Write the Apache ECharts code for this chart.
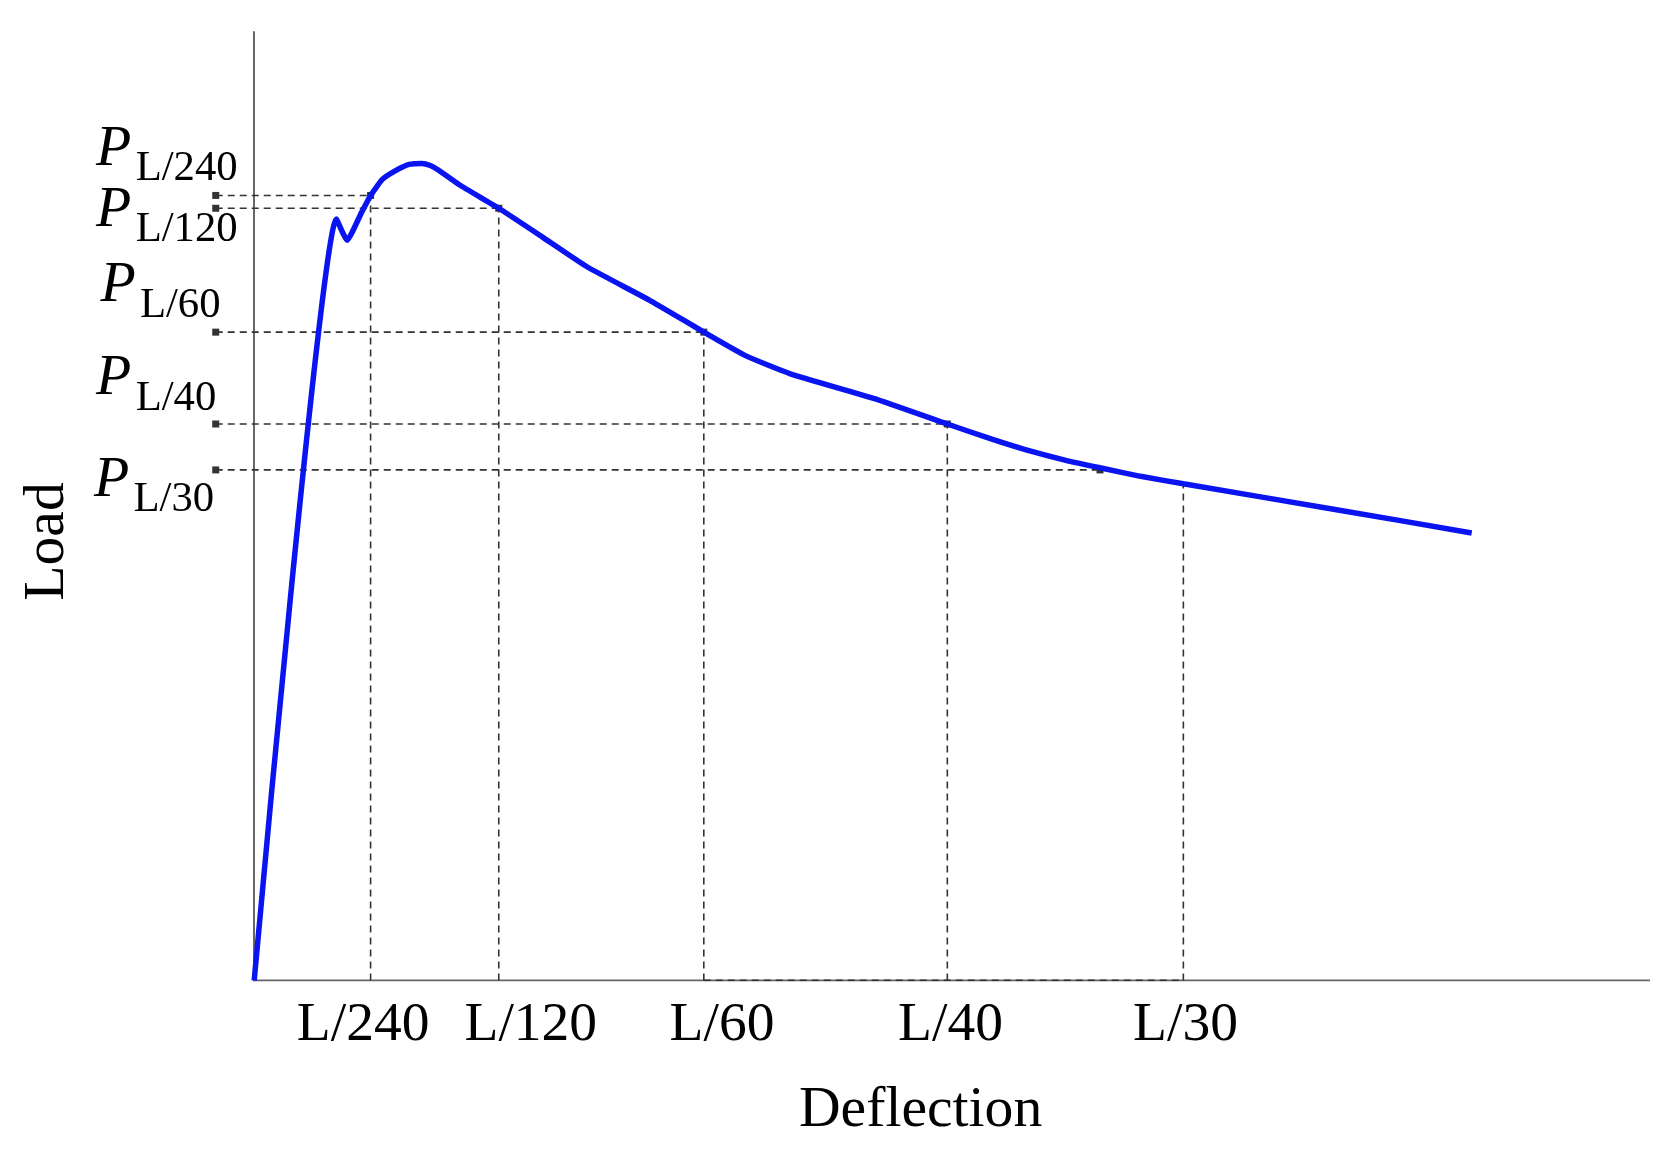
<!DOCTYPE html><html><head><meta charset="utf-8">
<script src="https://cdn.jsdelivr.net/npm/echarts@6/dist/echarts.min.js"></script>
<style>html,body{margin:0;background:#fff}#c{width:1666px;height:1150px}</style></head><body><div id="c"></div><script>
// curve points (deflection, load) in chart units
const curveX = [0, 77, 87, 100, 109, 120, 132, 145, 157, 165, 172, 192, 229, 270, 312, 370, 421, 460, 502, 580, 649, 690, 722, 760, 792, 830, 870, 1012, 1140];
const curveY = [0, 713, 693, 718, 735, 750, 758, 764, 765, 763, 759, 745, 723, 696, 668, 637, 607, 585, 568, 545, 521, 507, 497, 487, 480, 472, 465, 441, 419];
const tickNames = ['L/240','L/120','L/60','L/40','L/30'];
const tickX = [109, 229, 421, 649, 870];
const tickY = [735, 723, 607, 521, 465];
const hLineEndX = [109, 229, 421, 649, 792];
const hLineY = [735, 723, 607, 521, 478];
const S = 1.068;
const XMIN = -38;
const chart = echarts.init(document.getElementById('c'));
const dash = {color:'#333', width:1.6, type:[7,5]};
const series = [
  {type:'line', data:[[0,0],[1307,0]], symbol:'none', lineStyle:{color:'#666', width:2}, z:1},
  {type:'line', data:curveX.map((x,i)=>[x,curveY[i]]), smooth:0.15, symbol:'none', lineStyle:{color:'#0a14f0', width:5.5}, z:5}];
tickX.forEach((x,i)=>{
  series.push({type:'line', data:[[x,0],[x,tickY[i]]], symbol:'none', lineStyle:dash});
  series.push({type:'line', data:[[XMIN+2,hLineY[i]],[hLineEndX[i],hLineY[i]]], symbol:['arrow','none'], symbolSize:[7,7], symbolRotate:90, showSymbol:true, lineStyle:dash, itemStyle:{color:'#333'}});
});
series.push({type:'line', data:[[421,0],[870,0]], symbol:'none', lineStyle:dash});
const font = '"Liberation Serif", "Times New Roman", serif';
const g = [];
const tickLabelX = [340, 497, 676, 890, 1110];
tickNames.forEach((t,i)=>g.push({type:'text', x:tickLabelX[i]*S, y:960*S, style:{text:t, font:`${52*S}px ${font}`, fill:'#000', textAlign:'center', textVerticalAlign:'middle'}}));
const pl = [[90,140],[90,197],[94,268],[90,355],[88,450]];
tickNames.forEach((t,i)=>{
  g.push({type:'text', x:pl[i][0]*S, y:pl[i][1]*S, style:{text:'P', font:`italic ${54*S}px ${font}`, fill:'#000', textVerticalAlign:'middle'}});
  g.push({type:'text', x:(pl[i][0]+37)*S, y:(pl[i][1]+18)*S, style:{text:t, font:`${40*S}px ${font}`, fill:'#000', textVerticalAlign:'middle'}});
});
g.push({type:'text', x:862*S, y:1040*S, style:{text:'Deflection', font:`${54*S}px ${font}`, fill:'#000', textAlign:'center', textVerticalAlign:'middle'}});
g.push({type:'text', x:45*S, y:507*S, rotation:Math.PI/2, style:{text:'Load', font:`${54*S}px ${font}`, fill:'#000', textAlign:'center', textVerticalAlign:'middle'}});
chart.setOption({
  animation:false,
  grid:{left:(238+XMIN)*S, top:30*S, width:(1307-XMIN)*S, height:888*S},
  xAxis:{type:'value', min:XMIN, max:1307, axisLine:{show:false}, axisTick:{show:false}, axisLabel:{show:false}, splitLine:{show:false}},
  yAxis:{type:'value', min:0, max:888, axisLine:{show:true, onZero:true, lineStyle:{color:'#666', width:2}}, axisTick:{show:false}, axisLabel:{show:false}, splitLine:{show:false}},
  series, graphic:g
});
</script></body></html>
